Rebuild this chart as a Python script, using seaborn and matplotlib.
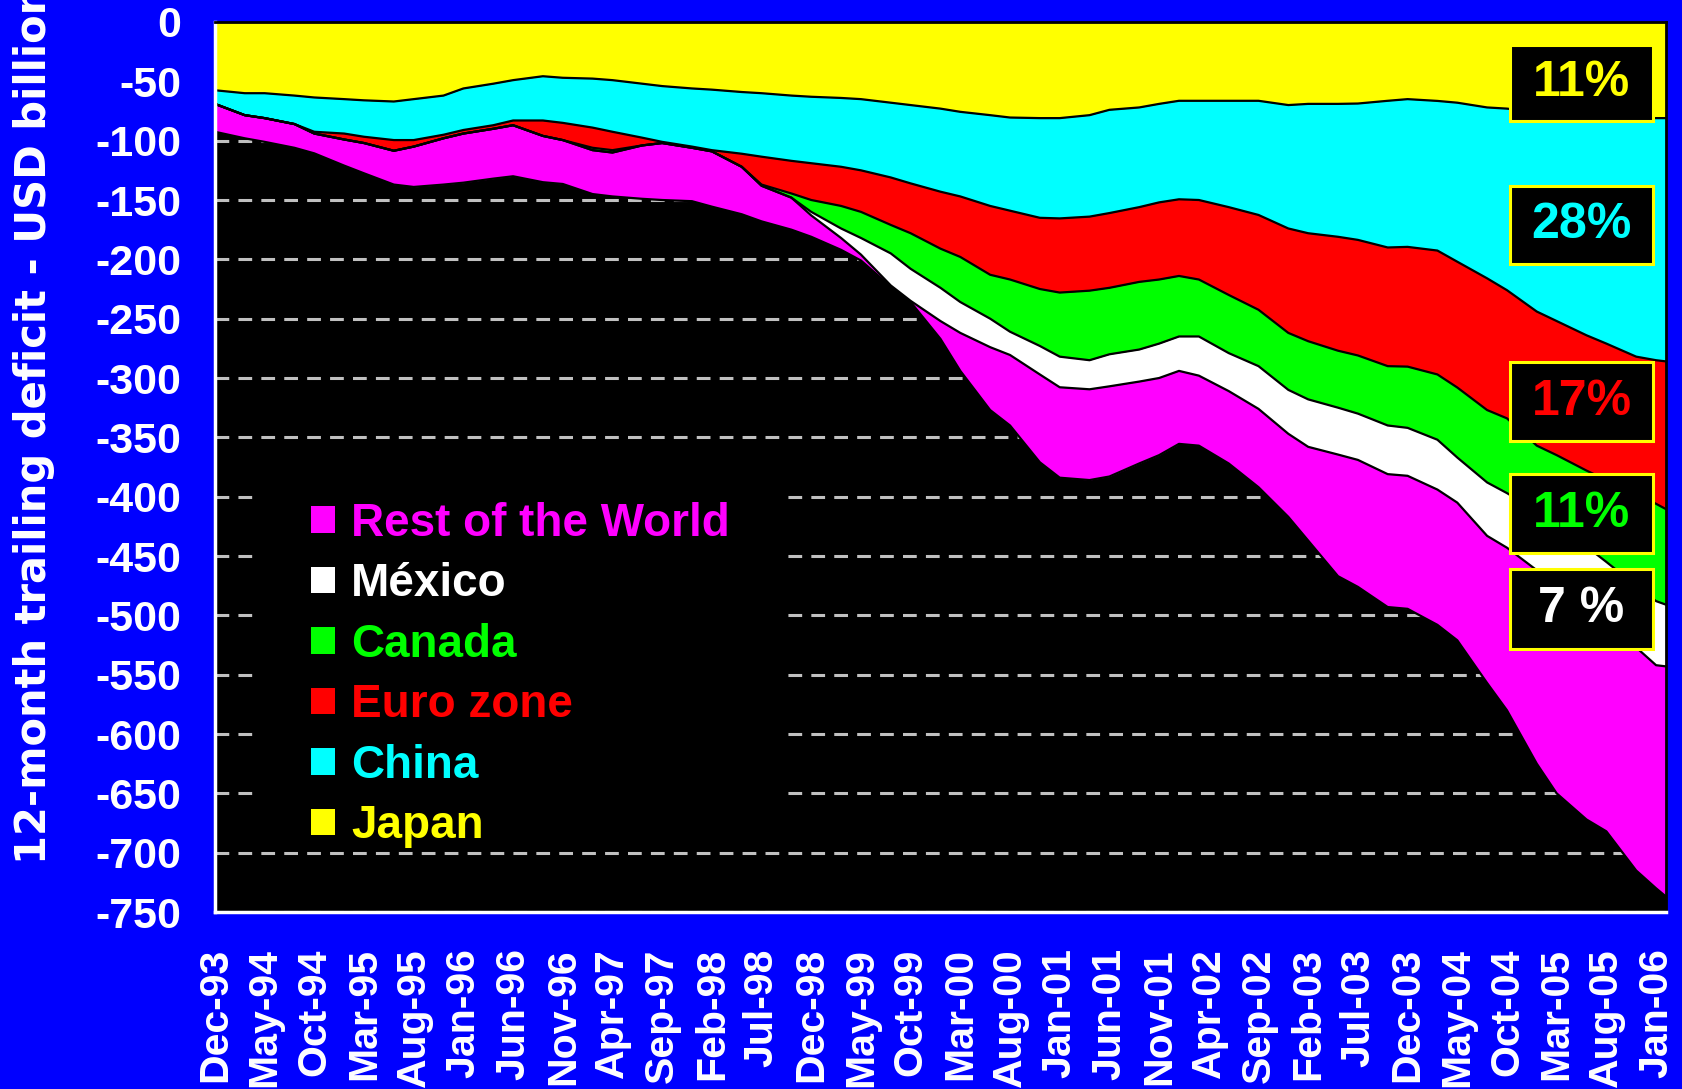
import numpy as np
import matplotlib
matplotlib.use('Agg')
import matplotlib.pyplot as plt
from matplotlib.patches import Patch, Rectangle
import seaborn as sns

# ==========================================
# DATA
# month index: 0 = Dec-93 ... 145 = Jan-06
# each list = lower edge of the layer (cumulative deficit, USD bn)
# ==========================================
months = [0, 3, 5, 8, 10, 13, 15, 18, 20, 23, 25, 28, 30, 33, 35, 38, 40, 43, 45, 48,
          50, 53, 55, 58, 60, 63, 65, 68, 70, 73, 75, 78, 80, 83, 85, 88, 90, 93, 95, 97,
          99, 102, 105, 108, 110, 113, 115, 118, 120, 123, 125, 128, 130, 133, 135, 138, 140, 143, 145, 146]

japan = [-57.5, -60, -60, -62, -63.6, -65, -66, -67, -65, -62, -56, -52, -49, -45.7, -47, -47.7, -49, -52, -54, -56,
         -57, -59, -60, -62, -63, -64, -65, -68, -70, -73, -75.7, -78.5, -80.5, -81, -81, -78.5, -74, -72, -69, -66.4,
         -66.4, -66.4, -66.4, -70, -69, -69, -68.7, -66.4, -65, -66.5, -68, -72, -73, -76, -78, -80, -81, -81, -81, -81]

china = [-69, -78.5, -81, -86, -92.5, -94, -96.7, -99.5, -99.5, -95, -91, -87, -83, -83, -85, -89, -92.5, -97.5, -101, -105,
         -108, -111, -113.5, -117, -119, -122, -125, -131, -136, -143, -147, -155, -159, -165, -165.5, -164, -161, -156, -152, -149.4,
         -150, -156, -162.6, -174, -178, -181, -183.6, -190, -189.5, -192.6, -202, -216, -226, -244, -252, -264, -271, -282, -285, -286]

euro = [-69, -78.5, -81, -86, -94, -99, -102, -108.5, -105, -98, -94, -90, -87, -96, -99.5, -106, -108, -104, -102, -106,
        -109, -122, -137, -144.5, -150, -155, -160, -171, -178, -191, -198, -213, -217, -225, -228, -226.4, -224, -219, -217, -214,
        -217, -230, -242.5, -262, -269, -277, -281, -290, -290.4, -297, -308, -327, -334, -357, -365, -378, -386, -398, -406, -410.5]

canada = [-69, -78.5, -81, -86, -94, -99, -102, -108.5, -105, -98, -94, -90, -87, -96, -99.5, -108, -110, -104, -102, -106,
          -109, -122, -138, -148, -160, -174, -182, -195, -208, -224, -236, -250, -261, -273, -282, -285, -280, -276, -271, -265,
          -265, -279, -290, -310, -318, -325, -330, -340, -342, -352, -367, -388, -397, -412, -424, -442, -455, -475, -488, -491]

mexico = [-69, -78.5, -81, -86, -94, -99, -102, -108.5, -105, -98, -94, -90, -87, -96, -99.5, -108, -110, -104, -102, -106,
          -109, -122, -138, -148, -163, -182, -196, -222, -235, -252, -262, -274, -280.6, -297, -307.8, -309.5, -307, -303, -300, -294,
          -298, -311, -326, -347, -358, -364.5, -369, -381, -382.4, -394, -405, -433, -443, -462, -475, -495, -508, -527, -542, -543]

total = [-92.5, -98, -101, -106, -110.7, -121, -127.5, -137, -139, -137, -135.4, -132, -130, -135, -136.5, -145, -147, -149, -150, -151,
         -155.6, -162, -168, -175, -181, -192, -201, -223, -236, -267, -294, -327, -340, -371, -384, -386, -383, -372, -365, -355.5,
         -357, -372, -392, -417, -437, -467, -476, -493, -494.5, -508, -521, -557, -580, -625, -650, -672, -682, -715, -730, -737]

tick_labels = ['Dec-93', 'May-94', 'Oct-94', 'Mar-95', 'Aug-95', 'Jan-96', 'Jun-96', 'Nov-96', 'Apr-97', 'Sep-97',
               'Feb-98', 'Jul-98', 'Dec-98', 'May-99', 'Oct-99', 'Mar-00', 'Aug-00', 'Jan-01', 'Jun-01', 'Nov-01',
               'Apr-02', 'Sep-02', 'Feb-03', 'Jul-03', 'Dec-03', 'May-04', 'Oct-04', 'Mar-05', 'Aug-05', 'Jan-06']
tick_pos = list(range(0, 146, 5))

share_labels = ['11%', '28%', '17%', '11%', '7 %']

# layer name, upper edge, lower edge, colour
layers = [
    ('Japan', np.zeros(len(months)), japan, '#FFFF00'),
    ('China', japan, china, '#00FFFF'),
    ('Euro zone', china, euro, '#FF0000'),
    ('Canada', euro, canada, '#00FF00'),
    ('México', canada, mexico, '#FFFFFF'),
    ('Rest of the World', mexico, total, '#FF00FF'),
]

# ==========================================
# STYLE
# ==========================================
sns.set_theme(style='dark')
plt.rcParams['font.family'] = ['Liberation Sans', 'DejaVu Sans']
plt.rcParams['font.weight'] = 'bold'

fig = plt.figure(figsize=(16.83, 10.89), dpi=100, facecolor='#0000FF')
ax = fig.add_axes([0.1277, 0.1625, 0.8622, 0.8173])
ax.set_facecolor('black')

# ==========================================
# STACKED AREAS
# ==========================================
for name, upper, lower, col in layers:
    ax.fill_between(months, upper, lower, color=col, linewidth=0, zorder=2)
    sns.lineplot(x=months, y=lower, color='black', linewidth=1.6, ax=ax, zorder=3)

ax.set_xlim(0, 146)
ax.set_ylim(-750, 0)

# grid
ax.set_axisbelow(True)
ax.yaxis.grid(True, color='#C0C0C0', linestyle=(0, (4.5, 3)), linewidth=2.2)
ax.xaxis.grid(False)

# y axis
yt = np.arange(-750, 1, 50)
ax.set_yticks(yt)
ax.set_yticklabels([str(v) for v in yt])
ax.tick_params(axis='y', colors='white', labelsize=31, length=9.5, width=2, direction='out', pad=15)
for lbl in ax.get_yticklabels():
    lbl.set_fontweight('bold')
ax.set_ylabel('')

# x axis: tick marks at the top (value 0), labels at the bottom
ax.set_xticks(tick_pos)
ax.set_xticklabels(tick_labels, rotation=90)
ax.tick_params(axis='x', top=True, bottom=False, labeltop=False, labelbottom=True,
               direction='in', length=9, width=1.5, color='black', labelcolor='white',
               labelsize=29.5, pad=26)
for lbl in ax.get_xticklabels():
    lbl.set_fontweight('bold')
ax.set_xlabel('')

for side in ['top', 'right']:
    ax.spines[side].set_color('black')
    ax.spines[side].set_linewidth(2)
for side in ['left', 'bottom']:
    ax.spines[side].set_color('white')
    ax.spines[side].set_linewidth(2.5)
for sp in ax.spines.values():
    sp.set_visible(True)
    sp.set_zorder(5)

# the reference clips the end of this title at the top edge
fig.text(0.0202, 1 - 864 / 1089, '12-month trailing deficit - USD billion', rotation=90,
         ha='center', va='bottom', color='white', fontsize=30, fontweight='bold',
         family='DejaVu Sans')

# ==========================================
# LEGEND
# ==========================================
ax.add_patch(Rectangle((0.028, 0.105), 0.366, 0.375, transform=ax.transAxes,
                       facecolor='black', edgecolor='none', zorder=1))
leg_items = layers[::-1]
handles = [Patch(facecolor=c, edgecolor='none') for _, _, _, c in leg_items]
leg = ax.legend(handles, [n for n, _, _, _ in leg_items], loc='upper left',
                bbox_to_anchor=(0.0665, 0.461), frameon=False, borderpad=0, borderaxespad=0,
                handlelength=0.52, handleheight=0.52, handletextpad=0.35,
                labelspacing=0.36, prop={'size': 33, 'weight': 'bold'},
                labelcolor=[c for _, _, _, c in leg_items])
leg.set_zorder(6)

# ==========================================
# SHARE BOXES
# ==========================================
box_y = [(0.889, 0.085), (0.728, 0.088), (0.529, 0.089), (0.403, 0.089), (0.296, 0.089)]
box_colors = ['#FFFF00', '#00FFFF', '#FF0000', '#00FF00', '#FFFFFF']
for (y0, h), txt, col in zip(box_y, share_labels, box_colors):
    ax.add_patch(Rectangle((0.8925, y0), 0.0985, h, transform=ax.transAxes,
                           facecolor='black', edgecolor='#FFFF00', linewidth=2.2, zorder=6))
    ax.text(0.8925 + 0.0985 / 2, y0 + h / 2, txt, transform=ax.transAxes, color=col,
            ha='center', va='center', fontsize=36, fontweight='bold', zorder=7)

fig.savefig('out.png', dpi=100, facecolor=fig.get_facecolor())
